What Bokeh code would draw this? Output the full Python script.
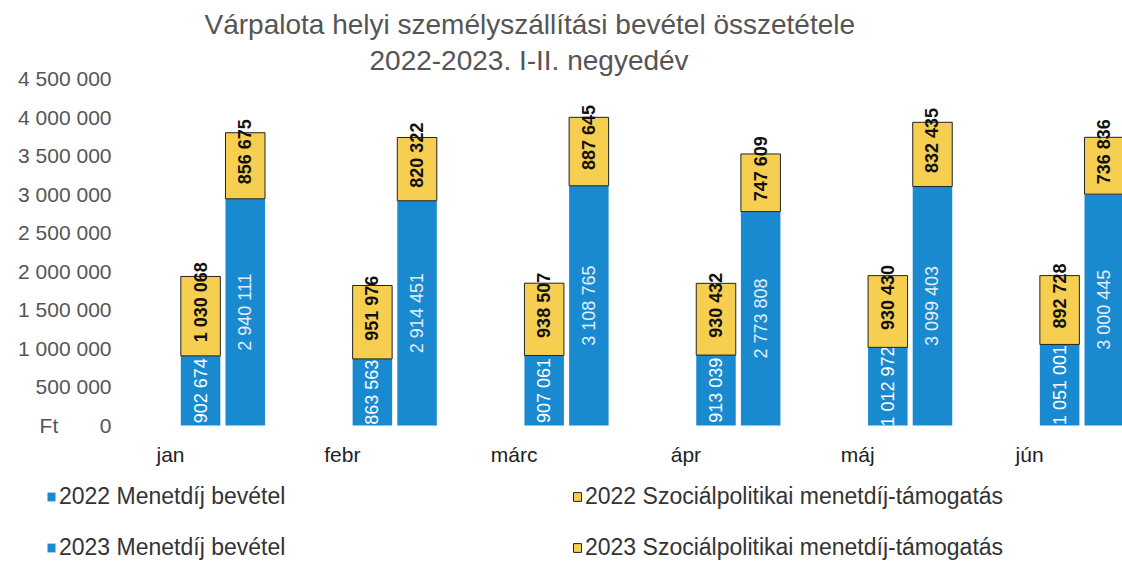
import numpy as np
from bokeh.plotting import figure
from bokeh.models import (Range1d, FixedTicker, Legend, LegendItem, Title,
                          ColumnDataSource)
from bokeh.core.properties import value
from bokeh.embed import file_html
from bokeh.resources import INLINE

months = ["jan", "febr", "márc", "ápr", "máj", "jún"]
menetdij_2022 = [902674, 863563, 907061, 913039, 1012972, 1051001]
szoc_2022 = [1030068, 951976, 938507, 930432, 930430, 892728]
menetdij_2023 = [2940111, 2914451, 3108765, 2773808, 3099403, 3000445]
szoc_2023 = [856675, 820322, 887645, 747609, 832435, 736836]
y_ticks = [0, 500000, 1000000, 1500000, 2000000, 2500000, 3000000, 3500000, 4000000, 4500000]
series_names = ["2022 Menetdíj bevétel", "2023 Menetdíj bevétel",
                "2022 Szociálpolitikai menetdíj-támogatás",
                "2023 Szociálpolitikai menetdíj-támogatás"]

BLUE = "#1a8ad0"
YELLOW = "#f7cf50"
FONT = "Liberation Sans"

def fmt(v):
    return f"{v:,}".replace(",", " ")

x = np.arange(len(months))
x22 = x + 0.175
x23 = x + 0.435
W = 0.23

m22 = np.array(menetdij_2022)
s22 = np.array(szoc_2022)
m23 = np.array(menetdij_2023)
s23 = np.array(szoc_2023)

src = ColumnDataSource(dict(
    x22=x22, x23=x23,
    m22=m22, s22=s22, m23=m23, s23=s23,
    t22=m22 + s22, t23=m23 + s23,
    m22_mid=m22 / 2, m23_mid=m23 / 2,
    s22_mid=m22 + s22 / 2, s23_mid=m23 + s23 / 2,
    m22_lab=[fmt(v) for v in menetdij_2022],
    m23_lab=[fmt(v) for v in menetdij_2023],
    s22_lab=[fmt(v) for v in szoc_2022],
    s23_lab=[fmt(v) for v in szoc_2023],
))

# frame covers the whole canvas below the titles; axes labels are drawn inward
p = figure(width=1122, height=562, output_backend="svg", toolbar_location=None,
           x_range=Range1d(-0.9895, 5.541), y_range=Range1d(-1777000, 4500000),
           min_border_left=0, min_border_right=0, min_border_top=78,
           min_border_bottom=0)
p.outline_line_color = None
p.grid.visible = False
p.background_fill_color = "white"

r_m22 = p.vbar(x="x22", width=W, bottom=0, top="m22", source=src,
               fill_color=BLUE, line_color=None)
r_m23 = p.vbar(x="x23", width=W, bottom=0, top="m23", source=src,
               fill_color=BLUE, line_color=None)
p.text(x="x22", y="m22_mid", text="m22_lab", source=src, angle=np.pi / 2,
       text_align="center", text_baseline="middle", text_color="white",
       text_font=value(FONT), text_font_size="18px")
p.text(x="x23", y="m23_mid", text="m23_lab", source=src, angle=np.pi / 2,
       text_align="center", text_baseline="middle", text_color="#e3eef8",
       text_font=value(FONT), text_font_size="18px")
r_s22 = p.vbar(x="x22", width=W, bottom="m22", top="t22", source=src,
               fill_color=YELLOW, line_color="#222222", line_width=1)
r_s23 = p.vbar(x="x23", width=W, bottom="m23", top="t23", source=src,
               fill_color=YELLOW, line_color="#222222", line_width=1)
p.text(x="x22", y="s22_mid", text="s22_lab", source=src, angle=np.pi / 2,
       text_align="center", text_baseline="middle", text_color="#111111",
       text_font=value(FONT), text_font_size="18px", text_font_style="bold",
       y_offset=-14)
p.text(x="x23", y="s23_mid", text="s23_lab", source=src, angle=np.pi / 2,
       text_align="center", text_baseline="middle", text_color="#111111",
       text_font=value(FONT), text_font_size="18px", text_font_style="bold",
       y_offset=-14)

# axes
y_labels = {t: fmt(t) for t in y_ticks}
y_labels[0] = "Ft\u2003\u2002\u2009 0"
p.yaxis.ticker = FixedTicker(ticks=y_ticks)
p.yaxis.major_label_overrides = y_labels
p.yaxis.axis_line_color = None
p.yaxis.major_tick_line_color = None
p.yaxis.minor_tick_line_color = None
p.yaxis.major_tick_out = 0
p.yaxis.major_tick_in = 0
p.yaxis.major_label_text_font = FONT
p.yaxis.major_label_text_font_size = "21px"
p.yaxis.major_label_text_color = "#555555"
p.yaxis.major_label_standoff = -111

p.xaxis.ticker = FixedTicker(ticks=list(range(len(months))))
p.xaxis.major_label_overrides = {i: m for i, m in enumerate(months)}
p.xaxis.axis_line_color = None
p.xaxis.major_tick_line_color = None
p.xaxis.minor_tick_line_color = None
p.xaxis.major_tick_out = 0
p.xaxis.major_tick_in = 0
p.xaxis.major_label_text_font = FONT
p.xaxis.major_label_text_font_size = "21px"
p.xaxis.major_label_text_color = "#222222"
p.xaxis.major_label_standoff = -120

# titles
t2 = Title(text="2022-2023. I-II. negyedév", align="left", offset=369,
           text_font=FONT, text_font_size="28px", text_font_style="normal",
           text_color="#555555", standoff=6)
t1 = Title(text="Várpalota helyi személyszállítási bevétel összetétele", align="left",
           offset=204, text_font=FONT, text_font_size="28px", text_font_style="normal",
           text_color="#555555", standoff=0)
p.add_layout(t2, "above")
p.add_layout(t1, "above")

rends = [r_m22, r_m23, r_s22, r_s23]

def mk_legend(idx, xloc):
    lg = Legend(items=[LegendItem(label=series_names[i], renderers=[rends[i]]) for i in idx],
                location=(xloc, 1), orientation="vertical",
                border_line_color=None, background_fill_alpha=0, padding=0,
                margin=0, spacing=24, glyph_width=10, glyph_height=11,
                label_standoff=3, label_text_font=FONT,
                label_text_font_size="23px", label_text_color="#333333",
                label_height=25)
    p.add_layout(lg, "center")

mk_legend([0, 1], 46)
mk_legend([2, 3], 572)

open("out.html", "w").write(file_html(p, INLINE))
